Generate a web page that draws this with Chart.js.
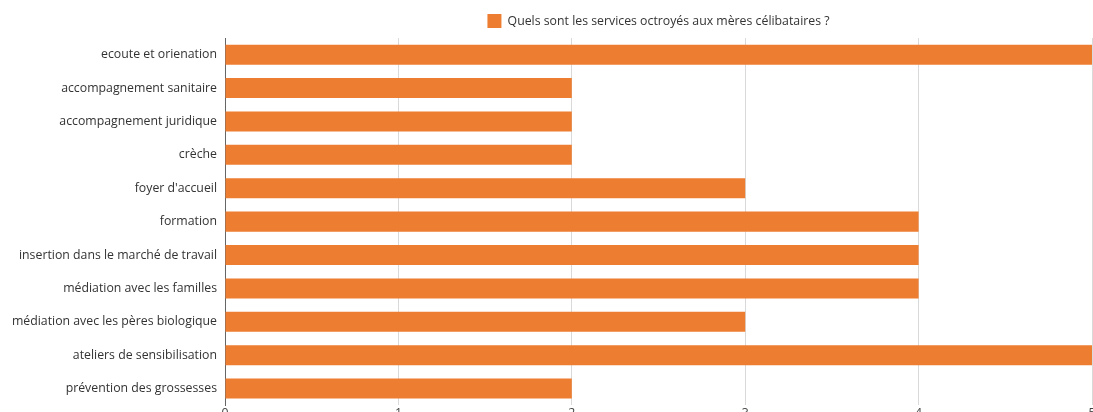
<!DOCTYPE html>
<html>
<head>
<meta charset="utf-8">
<script src="https://cdn.jsdelivr.net/npm/chart.js@4/dist/chart.umd.min.js"></script>
<style>
  html, body { margin: 0; padding: 0; background: #fff; overflow: hidden; }
  #wrap { width: 1093px; height: 412px; overflow: hidden; }
</style>
</head>
<body>
<div id="wrap"><canvas id="chart" width="1093" height="422"></canvas></div>
<script>
// ---------------- Data ----------------
const services = [
  "ecoute et orienation",
  "accompagnement sanitaire",
  "accompagnement juridique",
  "crèche",
  "foyer d'accueil",
  "formation",
  "insertion dans le marché de travail",
  "médiation avec les familles",
  "médiation avec les pères biologique",
  "ateliers de sensibilisation",
  "prévention des grossesses"
];
const counts = [5, 2, 2, 2, 3, 4, 4, 4, 3, 5, 2];
const seriesLabel = "Quels sont les services octroyés aux mères célibataires ?";
const xTicks = [0, 1, 2, 3, 4, 5];

const ORANGE = "#ED7D31";
const FONT = { family: "'Open Sans', sans-serif", size: 12.3 };

new Chart(document.getElementById("chart"), {
  type: "bar",
  data: {
    labels: services,
    datasets: [{ label: seriesLabel, data: counts, backgroundColor: ORANGE, borderWidth: 0, barPercentage: 0.6, categoryPercentage: 1 }]
  },
  options: {
    indexAxis: "y",
    responsive: false,
    animation: false,
    layout: { padding: { top: 6, left: 0, right: 1, bottom: 0 } },
    scales: {
      x: {
        min: xTicks[0], max: xTicks[xTicks.length - 1],
        afterBuildTicks: s => { s.ticks = xTicks.map(v => ({ value: v })); },
        afterFit: s => { s.paddingLeft = 0; s.paddingRight = 0; },
        ticks: { color: "#444", font: FONT, padding: 1 },
        grid: { color: "#d9d9d9", drawTicks: false },
        border: { display: false }
      },
      y: {
        afterFit: s => { s.width = 225; },
        ticks: { color: "#333", font: FONT, padding: 8 },
        grid: { display: false, drawTicks: false },
        border: { display: true, color: "#666" }
      }
    },
    plugins: {
      legend: {
        fullSize: false,
        labels: { color: "#333", font: FONT, boxWidth: 14, boxHeight: 14, padding: 8 }
      },
      tooltip: { enabled: false }
    }
  }
});
</script>
</body>
</html>
